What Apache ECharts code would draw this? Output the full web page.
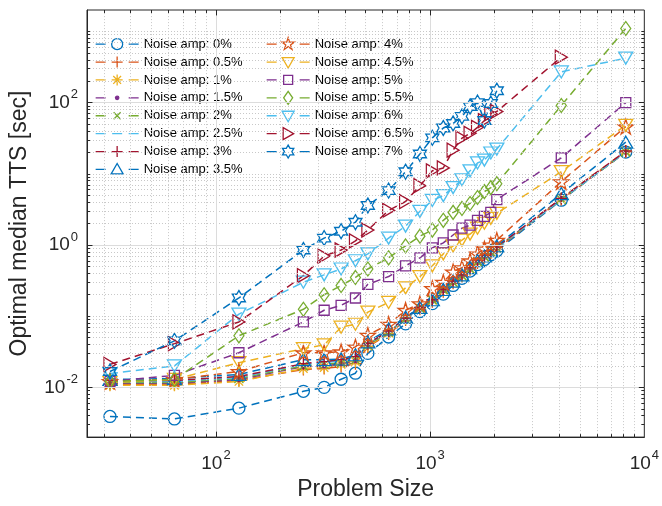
<!DOCTYPE html>
<html>
<head>
<meta charset="UTF-8">
<title>TTS vs problem size</title>
<style type="text/css">
	html, body { margin: 0; padding: 0; background: #fff; }
	#main { width: 662px; height: 506px; }
</style>
<script type="text/javascript" src="https://cdn.jsdelivr.net/npm/echarts@6/dist/echarts.min.js"></script>
</head>
<body>
<div id="main"></div>
<script type="text/javascript">
	// problem sizes (x)
	var sizes = [32, 64, 128, 256, 320, 384, 448, 512, 640, 768, 896, 1024, 1152, 1280, 1408, 1536, 1664, 1792, 1920, 2048, 4096, 8192];

	// optimal median TTS [sec], one list per noise amplitude
	var amp0  = [0.0039, 0.0036, 0.0051, 0.0088, 0.010, 0.013, 0.0158, 0.030, 0.051, 0.078, 0.116, 0.15, 0.204, 0.27, 0.34, 0.43, 0.53, 0.625, 0.73, 0.83, 4.26, 20.2];
	var amp05 = [0.0110, 0.0110, 0.0125, 0.0178, 0.0184, 0.0196, 0.0215, 0.037, 0.056, 0.088, 0.125, 0.16, 0.22, 0.29, 0.36, 0.45, 0.56, 0.66, 0.77, 0.88, 4.35, 20.2];
	var amp1  = [0.0107, 0.0107, 0.0121, 0.0184, 0.019, 0.021, 0.023, 0.038, 0.058, 0.091, 0.129, 0.167, 0.23, 0.30, 0.37, 0.46, 0.58, 0.68, 0.80, 0.91, 4.5, 20.9];
	var amp15 = [0.0114, 0.0114, 0.0129, 0.0196, 0.020, 0.0215, 0.0237, 0.0395, 0.060, 0.091, 0.129, 0.167, 0.23, 0.30, 0.37, 0.46, 0.58, 0.68, 0.80, 0.91, 4.5, 20.2];
	var amp2  = [0.0117, 0.0117, 0.0133, 0.020, 0.021, 0.0222, 0.0245, 0.0395, 0.060, 0.091, 0.129, 0.17, 0.237, 0.30, 0.37, 0.46, 0.58, 0.68, 0.80, 0.91, 4.35, 20.2];
	var amp25 = [0.0121, 0.0121, 0.0138, 0.021, 0.0222, 0.0237, 0.026, 0.041, 0.060, 0.091, 0.129, 0.17, 0.237, 0.30, 0.37, 0.46, 0.58, 0.68, 0.80, 0.91, 4.35, 20.2];
	var amp3  = [0.0125, 0.0125, 0.0142, 0.0215, 0.023, 0.0245, 0.027, 0.041, 0.062, 0.094, 0.133, 0.17, 0.237, 0.31, 0.38, 0.48, 0.60, 0.70, 0.83, 0.94, 4.5, 20.9];
	var amp35 = [0.0129, 0.0133, 0.0152, 0.0245, 0.0245, 0.025, 0.0287, 0.0435, 0.066, 0.097, 0.133, 0.17, 0.237, 0.31, 0.38, 0.48, 0.60, 0.70, 0.83, 0.97, 5.27, 27.8];
	var amp4  = [0.0121, 0.0129, 0.0167, 0.0306, 0.0306, 0.0316, 0.037, 0.054, 0.077, 0.121, 0.15, 0.245, 0.30, 0.42, 0.48, 0.60, 0.75, 0.88, 1.0, 1.17, 7.74, 46];
	var amp45 = [0.0117, 0.0129, 0.0222, 0.035, 0.0395, 0.070, 0.077, 0.114, 0.156, 0.25, 0.36, 0.51, 0.75, 0.97, 1.17, 1.42, 1.72, 2.02, 2.37, 2.78, 10.7, 48];
	var amp5  = [0.0121, 0.0147, 0.0306, 0.083, 0.121, 0.142, 0.18, 0.28, 0.36, 0.51, 0.66, 0.91, 1.07, 1.38, 1.72, 1.90, 2.22, 2.53, 2.87, 4.35, 16.7, 100];
	var amp55 = [0.0121, 0.0129, 0.053, 0.125, 0.20, 0.27, 0.35, 0.46, 0.66, 0.97, 1.33, 1.62, 2.22, 2.87, 3.26, 3.83, 4.64, 5.62, 6.39, 7.26, 91, 1100];
	var amp6  = [0.0156, 0.020, 0.107, 0.30, 0.38, 0.46, 0.60, 0.75, 1.25, 1.84, 2.97, 4.22, 4.95, 6.39, 8.25, 11.0, 14.2, 15.6, 19.6, 22.2, 270, 422];
	var amp65 = [0.0210, 0.041, 0.083, 0.37, 0.70, 0.85, 1.14, 1.62, 3.06, 4.08, 6.81, 11.0, 12.1, 21.5, 31.6, 37, 45, 56, 70, 75, 435, null];
	var amp7  = [0.0167, 0.045, 0.18, 0.85, 1.25, 1.56, 2.09, 3.59, 5.81, 10.7, 19.0, 32, 44, 51, 64, 88, 100, 56, 97, 147, null, null];

	var names = ['Noise amp: 0%', 'Noise amp: 0.5%', 'Noise amp: 1%', 'Noise amp: 1.5%', 'Noise amp: 2%',
		'Noise amp: 2.5%', 'Noise amp: 3%', 'Noise amp: 3.5%', 'Noise amp: 4%', 'Noise amp: 4.5%',
		'Noise amp: 5%', 'Noise amp: 5.5%', 'Noise amp: 6%', 'Noise amp: 6.5%', 'Noise amp: 7%'];
	var values = [amp0, amp05, amp1, amp15, amp2, amp25, amp3, amp35, amp4, amp45, amp5, amp55, amp6, amp65, amp7];

	var C = ['#0072BD', '#D95319', '#EDB120', '#7E2F8E', '#77AC30', '#4DBEEE', '#A2142F'];
	var colors = [C[0], C[1], C[2], C[3], C[4], C[5], C[6], C[0], C[1], C[2], C[3], C[4], C[5], C[6], C[0]];

	// marker shapes for the plot (20x20 box)
	var P = {
		plus: 'path://M10,0L10,20M0,10L20,10',
		star: 'path://M10,0L10,20M0,10L20,10M3,3L17,17M17,3L3,17',
		cross: 'path://M0,0L20,20M20,0L0,20',
		up: 'path://M10,0L20,17.3L0,17.3Z',
		down: 'path://M0,0L20,0L10,17.3Z',
		right: 'path://M0,0L17.3,10L0,20Z',
		penta: 'path://M10,0L12.25,6.91L19.51,6.91L13.63,11.18L15.88,18.09L10,13.82L4.12,18.09L6.37,11.18L0.49,6.91L7.75,6.91Z',
		hexa: 'path://M10,0L12.89,5L18.66,5L15.77,10L18.66,15L12.89,15L10,20L7.11,15L1.34,15L4.23,10L1.34,5L7.11,5Z'
	};
	var marks = [
		['circle', 12], [P.plus, 12], [P.star, 12], ['circle', 4], [P.cross, 9],
		['none', 0], [P.plus, 12], [P.up, [14, 12]], [P.penta, 15], [P.down, [14, 12]],
		['rect', 10], ['diamond', [10, 14]], [P.down, [14, 12]], [P.right, [12, 14]], [P.hexa, [13, 15]]
	];

	// legend icons: 43x13 box, two short line pieces with the marker in between
	var seg = 'M0,0M43,13M0,6.5L10,6.5M33,6.5L43,6.5';
	var LM = {
		circle: 'M27,6.5A5.5,5.5 0 1 1 16,6.5A5.5,5.5 0 1 1 27,6.5Z',
		plus: 'M21.5,1L21.5,12M16,6.5L27,6.5',
		star: 'M21.5,1L21.5,12M16,6.5L27,6.5M17.6,2.6L25.4,10.4M25.4,2.6L17.6,10.4',
		dot: 'M23.2,6.5A1.7,1.7 0 1 1 19.8,6.5A1.7,1.7 0 1 1 23.2,6.5Z',
		cross: 'M18,3L25,10M25,3L18,10',
		none: 'M16.5,6.5L26.5,6.5',
		up: 'M21.5,0.5L27.5,11L15.5,11Z',
		penta: 'M21.5,0L22.96,4.49L27.68,4.49L23.86,7.27L25.32,11.76L21.5,8.98L17.68,11.76L19.14,7.27L15.32,4.49L20.04,4.49Z',
		down: 'M15.5,2L27.5,2L21.5,12.5Z',
		square: 'M17,2L26,2L26,11L17,11Z',
		diamond: 'M21.5,0L26,6.5L21.5,13L17,6.5Z',
		right: 'M16.5,0.5L27,6.5L16.5,12.5Z',
		hexa: 'M21.5,0L23.38,3.25L27.13,3.25L25.25,6.5L27.13,9.75L23.38,9.75L21.5,13L19.63,9.75L15.87,9.75L17.75,6.5L15.87,3.25L19.63,3.25Z'
	};
	var legendMarks = ['circle', 'plus', 'star', 'dot', 'cross', 'none', 'plus', 'up', 'penta', 'down', 'square', 'diamond', 'down', 'right', 'hexa'];

	var FONT = "'Liberation Sans', Arial, Helvetica, sans-serif";
	var TXT = '#262626';

	// grid lines and ticks (MATLAB-like box with minor ticks)
	var xMin = 25, xMax = 10000, yMin = 0.002, yMax = 2000;
	var gridLines = [];
	var k, m, v;
	var xMinor = [], yMinor = [];
	for (k = 1; k <= 3; k++) {
		for (m = 2; m <= 9; m++) { v = m * Math.pow(10, k); if (v > xMin && v < xMax) xMinor.push(v); }
	}
	for (k = -3; k <= 3; k++) {
		for (m = 1; m <= 9; m++) {
			v = m * Math.pow(10, k);
			if (m === 1 && k % 2 === 0) continue;
			if (v > yMin * 1.0001 && v < yMax * 0.9999) yMinor.push(v);
		}
	}
	var xMajor = [100, 1000], yMajor = [0.01, 1, 100];
	var minorStyle = { color: '#c8c8c8', type: [1, 2], width: 1 };
	var majorStyle = { color: '#dcdcdc', type: 'solid', width: 1 };
	var tickStyle = { color: TXT, type: 'solid', width: 1 };
	xMinor.forEach(function (x) { gridLines.push({ xAxis: x, lineStyle: minorStyle }); });
	yMinor.forEach(function (y) { gridLines.push({ yAxis: y, lineStyle: minorStyle }); });
	xMajor.forEach(function (x) { gridLines.push({ xAxis: x, lineStyle: majorStyle }); });
	yMajor.forEach(function (y) { gridLines.push({ yAxis: y, lineStyle: majorStyle }); });

	// tick lengths in px converted to log-space factors
	var pxDecX = 558 / Math.log10(xMax / xMin), pxDecY = 431 / Math.log10(yMax / yMin);
	function fx(px) { return Math.pow(10, px / pxDecX); }
	function fy(px) { return Math.pow(10, px / pxDecY); }
	function xTick(x, len) {
		gridLines.push([{ coord: [x, yMin], lineStyle: tickStyle }, { coord: [x, yMin * fy(len)] }]);
		gridLines.push([{ coord: [x, yMax], lineStyle: tickStyle }, { coord: [x, yMax / fy(len)] }]);
	}
	function yTick(y, len) {
		gridLines.push([{ coord: [xMin, y], lineStyle: tickStyle }, { coord: [xMin * fx(len), y] }]);
		gridLines.push([{ coord: [xMax, y], lineStyle: tickStyle }, { coord: [xMax / fx(len), y] }]);
	}
	xMinor.forEach(function (x) { xTick(x, 3); });
	xMajor.forEach(function (x) { xTick(x, 5.5); });
	yMinor.forEach(function (y) { yTick(y, 3); });
	yMajor.forEach(function (y) { yTick(y, 5.5); });

	var series = [{
		name: 'grid',
		type: 'line',
		z: 1,
		data: [[100, 1]],
		symbol: 'none',
		lineStyle: { width: 0 },
		silent: true,
		markLine: {
			silent: true,
			symbol: ['none', 'none'],
			label: { show: false },
			animation: false,
			lineStyle: minorStyle,
			emphasis: { disabled: true },
			data: gridLines
		}
	}];

	var legendItems = [];
	names.forEach(function (n, i) {
		var pts = [];
		sizes.forEach(function (x, j) { if (values[i][j] != null) pts.push([x, values[i][j]]); });
		var filled = (i === 3);
		var st = {
			color: filled ? colors[i] : 'rgba(0,0,0,0)',
			borderColor: colors[i],
			borderWidth: 1.3
		};
		series.push({
			name: n,
			type: 'line',
			z: 3,
			data: pts,
			symbol: marks[i][0],
			symbolSize: marks[i][1],
			showSymbol: marks[i][0] !== 'none',
			lineStyle: { color: colors[i], width: 1.5, type: [8, 5] },
			itemStyle: st,
			emphasis: { disabled: true },
			animation: false
		});
		legendItems.push({
			name: n,
			icon: 'path://' + seg + LM[legendMarks[i]],
			itemStyle: st
		});
	});

	function labelFmt(onlyEven) {
		return function (val) {
			var e = Math.round(Math.log10(val));
			if (Math.abs(val / Math.pow(10, e) - 1) > 1e-6) return '';
			if (onlyEven && e % 2 !== 0) return '';
			return '{b|10}{s|' + e + '}';
		};
	}
	var rich = {
		b: { fontSize: 19, color: TXT, fontFamily: FONT },
		s: { fontSize: 13, color: TXT, fontFamily: FONT, padding: [0, 0, 16, 1] }
	};

	var legendCommon = {
		orient: 'vertical',
		itemWidth: 43,
		itemHeight: 13,
		itemGap: 3.6,
		top: 37,
		padding: 0,
		textStyle: { fontSize: 13, color: '#000', fontFamily: FONT },
		selectedMode: false
	};

	var mychar = echarts.init(document.getElementById('main'));
	var option = {
		backgroundColor: '#fff',
		animation: false,
		textStyle: { fontFamily: FONT },
		grid: { left: 87, right: 17, top: 10, bottom: 65, show: true, borderColor: TXT, borderWidth: 1, backgroundColor: '#fff' },
		legend: [
			Object.assign({ left: 95, data: legendItems.slice(0, 8) }, legendCommon),
			Object.assign({ left: 266, data: legendItems.slice(8) }, legendCommon)
		],
		xAxis: {
			type: 'log',
			logBase: 10,
			min: xMin,
			max: xMax,
			name: 'Problem Size',
			nameLocation: 'middle',
			nameGap: 40,
			nameTextStyle: { fontSize: 23, color: TXT, fontFamily: FONT },
			axisLine: { show: true, lineStyle: { color: TXT } },
			axisTick: { show: false },
			splitLine: { show: false },
			axisLabel: { formatter: labelFmt(false), rich: rich, margin: 12 }
		},
		yAxis: {
			type: 'log',
			logBase: 10,
			min: yMin,
			max: yMax,
			name: 'Optimal median TTS [sec]',
			nameLocation: 'middle',
			nameGap: 56,
			nameTextStyle: { fontSize: 23, color: TXT, fontFamily: FONT },
			axisLine: { show: true, lineStyle: { color: TXT } },
			axisTick: { show: false },
			splitLine: { show: false },
			axisLabel: { formatter: labelFmt(true), rich: rich, margin: 9 }
		},
		series: series
	};
	mychar.setOption(option);
</script>
</body>
</html>
